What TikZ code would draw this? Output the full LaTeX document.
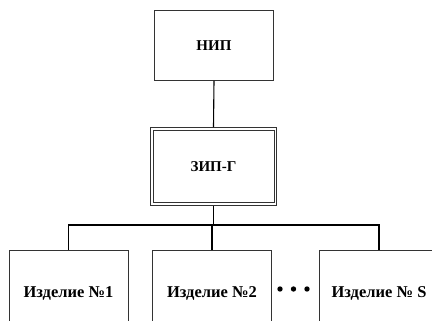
\documentclass[tikz,border=0pt]{standalone}
\usepackage{fontspec}
\setmainfont{Liberation Serif}
\usepackage{tikz}
\usetikzlibrary{calc,positioning}

\begin{document}
\begin{tikzpicture}[
    x=1pt,
    y=-1pt,
    unitbox/.style={
        draw=black!80,
        line width=0.7pt,
        font=\fontsize{15}{18}\selectfont\bfseries,
        inner sep=0pt
    },
    topbox/.style={
        unitbox,
        minimum width=119,
        minimum height=70
    },
    stockbox/.style={
        unitbox,
        minimum width=126,
        minimum height=78
    },
    itembox/.style={
        unitbox,
        font=\fontsize{16.5}{19}\selectfont\bfseries,
        minimum width=119,
        minimum height=86
    },
    link/.style={line width=1.1pt,draw=black}
]

\useasboundingbox (0,0) rectangle (432,321);
\clip (0,0) rectangle (432,321);

% ---------------------------------------------------------
% Upper levels
% ---------------------------------------------------------

\node[topbox] (nip) at (214,45.5) {НИП};

\node[stockbox] (zip) at (213.5,166.5) {ЗИП-Г};

% inner frame of the double border
\draw[black!80,line width=0.7pt]
    ($(zip.north west)+(3,3)$) rectangle ($(zip.south east)+(-3,-3)$);

% ---------------------------------------------------------
% Items
% ---------------------------------------------------------

\node[itembox] (item1) at (68.5,293) {Изделие №1};

\node[itembox] (item2) at (212,293) {Изделие №2};

\node[itembox] (itemS) at (379,293) {Изделие № S};

% dots between item 2 and item S
\foreach \dx in {280,293.5,307}
    \fill (\dx,289) circle (2.7);

% ---------------------------------------------------------
% Connectors
% ---------------------------------------------------------

\coordinate (bus) at (zip.south |- 0,225);

\draw[link] (nip.south) -- (zip.north);

\draw[link] (zip.south) -- (bus);

\draw[link] (item1.north) |- (bus) -| (itemS.north);

\draw[link] (bus) -- (item2.north |- bus) -- (item2.north);

\end{tikzpicture}
\end{document}
